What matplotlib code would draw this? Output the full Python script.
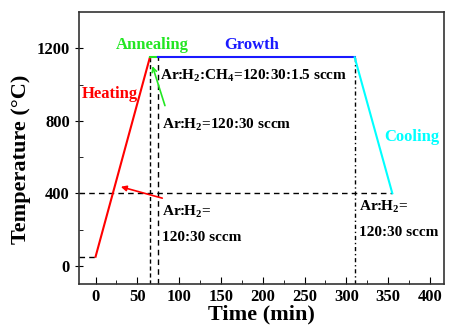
import matplotlib
matplotlib.use('Agg')
import matplotlib.pyplot as plt

plt.rcParams['font.family'] = 'Liberation Serif'
plt.rcParams['font.weight'] = 'bold'
plt.rcParams['axes.labelweight'] = 'bold'
plt.rcParams['mathtext.fontset'] = 'custom'
plt.rcParams['mathtext.rm'] = 'Liberation Serif:bold'
plt.rcParams['mathtext.it'] = 'Liberation Serif:bold'
plt.rcParams['mathtext.bf'] = 'Liberation Serif:bold'

# process stages (time in min, temperature in C)
heat_t = [0, 65]
heat_T = [50, 1150]
anneal_t = [65, 75]
anneal_T = [1150, 1150]
growth_t = [75, 310]
growth_T = [1150, 1150]
cool_t = [310, 355]
cool_T = [1150, 400]

xticks = [0, 50, 100, 150, 200, 250, 300, 350, 400]
yticks = [0, 400, 800, 1200]

fig = plt.figure(figsize=(4.75, 3.34), dpi=100)
ax = fig.add_axes([0.166, 0.150, 0.769, 0.814])

# guide lines
ax.plot([-20, 355], [400, 400], color='k', ls=(0, (4, 3)), lw=1)
ax.plot([-20, 0], [50, 50], color='k', ls=(0, (4, 3)), lw=1)
ax.plot([65, 65], [-100, 1150], color='k', ls=(0, (3, 2)), lw=1)
ax.plot([75, 75], [-100, 1150], color='k', ls=(0, (4, 3)), lw=1)
ax.plot([310, 310], [-100, 1150], color='k', ls=(0, (3, 2, 1, 2)), lw=1)

ax.plot(heat_t, heat_T, color='red', lw=1.5)
ax.plot(anneal_t, anneal_T, color='#22e622', lw=1.5)
ax.plot(growth_t, growth_T, color='#1a1aff', lw=1.5)
ax.plot(cool_t, cool_T, color='cyan', lw=1.5)

ax.annotate('', xy=(27, 440), xytext=(83, 369),
            arrowprops=dict(arrowstyle='-|>', color='red', lw=1.2, mutation_scale=8))
ax.annotate('', xy=(67, 1117), xytext=(84, 869),
            arrowprops=dict(arrowstyle='->', color='#22e622', lw=1.2, mutation_scale=8))

ax.text(17, 950, 'Heating', color='red', fontsize=12, ha='center', va='center')
ax.text(68, 1220, 'Annealing', color='#22e622', fontsize=12, ha='center', va='center')
ax.text(187, 1220, 'Growth', color='#1a1aff', fontsize=12, ha='center', va='center')
ax.text(378, 711, 'Cooling', color='cyan', fontsize=12, ha='center', va='center')

ax.text(77, 1050, 'Ar:H$_2$:CH$_4$=120:30:1.5 sccm', fontsize=11, ha='left', va='center')
ax.text(80, 776, 'Ar:H$_2$=120:30 sccm', fontsize=11, ha='left', va='center')
ax.text(80, 297, 'Ar:H$_2$=', fontsize=11, ha='left', va='center')
ax.text(80, 154, '120:30 sccm', fontsize=11, ha='left', va='center')
ax.text(315, 325, 'Ar:H$_2$=', fontsize=11, ha='left', va='center')
ax.text(315, 182, '120:30 sccm', fontsize=11, ha='left', va='center')

ax.set_xlim(-20, 417)
ax.set_ylim(-100, 1400)
ax.set_xticks(xticks)
ax.set_yticks(yticks)
ax.set_xticks(range(25, 400, 50), minor=True)
ax.set_yticks([200, 600, 1000], minor=True)
ax.tick_params(axis='x', which='major', direction='in', length=5, labelsize=12)
ax.tick_params(axis='x', which='minor', direction='in', length=3)
ax.tick_params(axis='y', which='major', direction='inout', length=6, labelsize=12)
ax.tick_params(axis='y', which='minor', direction='in', length=3)
for s in ax.spines.values():
    s.set_color('#333333')
    s.set_linewidth(1.2)

ax.set_xlabel('Time (min)', fontsize=16, labelpad=0)
ax.set_ylabel('Temperature (\u00b0C)', fontsize=16)
ax.yaxis.set_label_coords(-0.13, 0.46)

fig.savefig('out.png', dpi=100)
